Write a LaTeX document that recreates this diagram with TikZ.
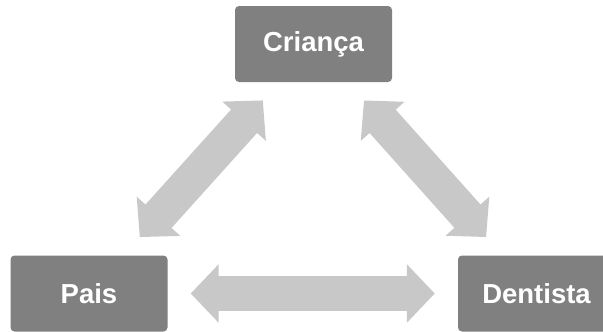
\documentclass[tikz,border=0pt]{standalone}
\usepackage{fontspec}
\setmainfont{Liberation Sans}
\usepackage{xcolor}
\usepackage{tikz}
\usetikzlibrary{arrows.meta,positioning}

\definecolor{boxgray}{HTML}{808080}
\definecolor{arrowgray}{HTML}{C8C8C8}

\begin{document}
\begin{tikzpicture}[x=1pt, y=-1pt,
    party/.style={fill=boxgray, rounded corners=4pt, minimum width=157pt, minimum height=76pt,
        inner sep=0pt, text=white, font=\fontsize{27.5}{31}\selectfont\bfseries},
    bigarrow/.style={draw=arrowgray, line width=35pt, line cap=butt,
        {Triangle[length=28pt,width=57pt]}-{Triangle[length=28pt,width=57pt]}}]
    \useasboundingbox (0,0) rectangle (603,332);
    \clip (0,0) rectangle (603,332);

    % The three parties
    \node[party] (crianca) at (313.5, 44) {Criança};
    \node[party] (pais) at (89, 293.5) {Pais};
    \node[party] (dentista) at (536.5, 293.5) {Dentista};

    % Two-way relations
    \draw[bigarrow, shorten <=24.5pt, shorten >=24.5pt] (pais) -- (crianca);
    \draw[bigarrow, shorten <=24.5pt, shorten >=24.5pt] (crianca) -- (dentista);
    \draw[bigarrow, shorten <=23pt, shorten >=23pt] (pais) -- (dentista);

\end{tikzpicture}
\end{document}
